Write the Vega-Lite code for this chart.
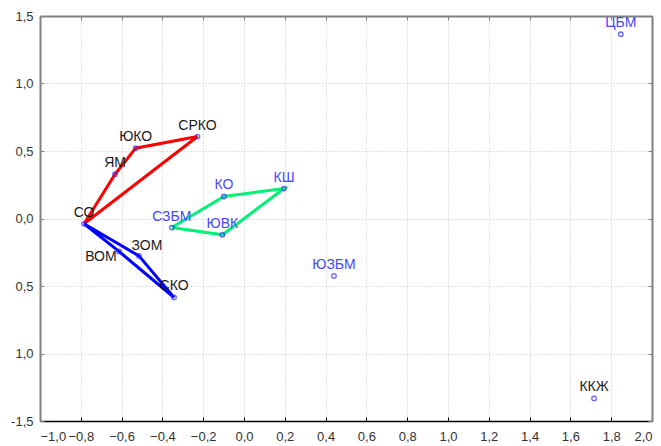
{
  "$schema": "https://vega.github.io/schema/vega-lite/v6.json",
  "width": 612,
  "height": 405,
  "autosize": {"type": "none"},
  "padding": {"left": 40, "top": 16, "right": 9, "bottom": 25},
  "background": "white",
  "config": {
    "view": {"stroke": null},
    "font": "Liberation Sans",
    "axis": {
      "labelFont": "Liberation Sans",
      "labelFontSize": 13,
      "labelColor": "#333333",
      "labelOverlap": false,
      "gridColor": "#c8c8c8",
      "gridDash": [1, 2],
      "gridWidth": 1,
      "tickSize": -4,
      "tickColor": "#808080",
      "domainColor": "#808080",
      "domainWidth": 2
    }
  },
  "resolve": {"axis": {"x": "independent", "y": "independent"}, "scale": {"color": "independent"}},
  "datasets": {
    "points": [
      {"name": "СО", "x": -0.784, "y": -0.039, "grp": "black"},
      {"name": "ЯМ", "x": -0.632, "y": 0.328, "grp": "black"},
      {"name": "ЮКО", "x": -0.531, "y": 0.521, "grp": "black"},
      {"name": "СРКО", "x": -0.228, "y": 0.607, "grp": "black"},
      {"name": "ЗОМ", "x": -0.515, "y": -0.277, "grp": "black"},
      {"name": "ВОМ", "x": -0.613, "y": -0.244, "grp": "black"},
      {"name": "СКО", "x": -0.343, "y": -0.585, "grp": "black"},
      {"name": "СЗБМ", "x": -0.354, "y": -0.067, "grp": "blue"},
      {"name": "КО", "x": -0.098, "y": 0.163, "grp": "blue"},
      {"name": "КШ", "x": 0.196, "y": 0.222, "grp": "blue"},
      {"name": "ЮВК", "x": -0.106, "y": -0.121, "grp": "blue"},
      {"name": "ЦБМ", "x": 1.847, "y": 1.365, "grp": "blue"},
      {"name": "ЮЗБМ", "x": 0.441, "y": -0.425, "grp": "blue"},
      {"name": "ККЖ", "x": 1.716, "y": -1.333, "grp": "black"}
    ],
    "edges": [
      {"poly": "red", "ord": 1, "name": "СО"},
      {"poly": "red", "ord": 2, "name": "ЯМ"},
      {"poly": "red", "ord": 3, "name": "ЮКО"},
      {"poly": "red", "ord": 4, "name": "СРКО"},
      {"poly": "red", "ord": 5, "name": "СО"},
      {"poly": "blue", "ord": 1, "name": "СО"},
      {"poly": "blue", "ord": 2, "name": "ЗОМ"},
      {"poly": "blue", "ord": 3, "name": "СКО"},
      {"poly": "blue", "ord": 4, "name": "ВОМ"},
      {"poly": "blue", "ord": 5, "name": "СО"},
      {"poly": "green", "ord": 1, "name": "СЗБМ"},
      {"poly": "green", "ord": 2, "name": "КО"},
      {"poly": "green", "ord": 3, "name": "КШ"},
      {"poly": "green", "ord": 4, "name": "ЮВК"},
      {"poly": "green", "ord": 5, "name": "СЗБМ"}
    ]
  },
  "layer": [
    {
      "data": {"name": "edges"},
      "transform": [
        {"lookup": "name", "from": {"data": {"name": "points"}, "key": "name", "fields": ["x", "y"]}}
      ],
      "mark": {"type": "line", "strokeWidth": 3, "clip": true},
      "encoding": {
        "x": {
          "field": "x", "type": "quantitative",
          "scale": {"domain": [-1, 2], "nice": false, "zero": false},
          "axis": {
            "orient": "bottom", "title": null,
            "values": [-1, -0.8, -0.6, -0.4, -0.2, 0, 0.2, 0.4, 0.6, 0.8, 1, 1.2, 1.4, 1.6, 1.8, 2],
            "labelExpr": "replace(format(datum.value, '.1f'), '.', ',')",
            "domainColor": "#000000", "tickColor": "#000000", "domainWidth": 1.5,
            "labelPadding": 13, "grid": true
          }
        },
        "y": {
          "field": "y", "type": "quantitative",
          "scale": {"domain": [-1.5, 1.5], "nice": false, "zero": false},
          "axis": {
            "orient": "left", "title": null,
            "values": [-1.5, -1, -0.5, 0, 0.5, 1, 1.5],
            "labelExpr": "datum.value == -1.5 ? '-1,5' : replace(format(abs(datum.value), '.1f'), '.', ',')",
            "labelPadding": 11, "grid": true
          }
        },
        "color": {
          "field": "poly", "type": "nominal",
          "scale": {"domain": ["red", "blue", "green"], "range": ["#ff0000", "#0000ff", "#00f078"]},
          "legend": null
        },
        "detail": {"field": "poly"},
        "order": {"field": "ord", "type": "quantitative"}
      }
    },
    {
      "data": {"name": "points"},
      "mark": {"type": "point", "shape": "circle", "filled": false, "size": 20, "strokeWidth": 1.3, "color": "#2828ff"},
      "encoding": {
        "x": {"field": "x", "type": "quantitative", "axis": {"orient": "top", "title": null, "labels": false, "grid": false, "values": [-1, -0.8, -0.6, -0.4, -0.2, 0, 0.2, 0.4, 0.6, 0.8, 1, 1.2, 1.4, 1.6, 1.8, 2]}},
        "y": {"field": "y", "type": "quantitative", "axis": {"orient": "right", "title": null, "labels": false, "grid": false, "values": [-1.5, -1, -0.5, 0, 0.5, 1, 1.5]}}
      }
    },
    {
      "data": {"name": "points"},
      "transform": [{"filter": "datum.name != 'ВОМ' && datum.name != 'ЗОМ'"}],
      "mark": {"type": "text", "fontSize": 14, "baseline": "middle", "align": "center", "dy": -11},
      "encoding": {
        "x": {"field": "x", "type": "quantitative", "axis": null},
        "y": {"field": "y", "type": "quantitative", "axis": null},
        "text": {"field": "name"},
        "color": {"field": "grp", "type": "nominal", "scale": {"domain": ["black", "blue"], "range": ["#1a1a1a", "#4646ff"]}, "legend": null}
      }
    },
    {
      "data": {"name": "points"},
      "transform": [{"filter": "datum.name == 'ЗОМ'"}],
      "mark": {"type": "text", "fontSize": 14, "baseline": "middle", "align": "center", "dx": 8, "dy": -10, "color": "#1a1a1a"},
      "encoding": {
        "x": {"field": "x", "type": "quantitative", "axis": null},
        "y": {"field": "y", "type": "quantitative", "axis": null},
        "text": {"field": "name"}
      }
    },
    {
      "data": {"name": "points"},
      "transform": [{"filter": "datum.name == 'ВОМ'"}],
      "mark": {"type": "text", "fontSize": 14, "baseline": "middle", "align": "center", "dx": -18, "dy": 6, "color": "#1a1a1a"},
      "encoding": {
        "x": {"field": "x", "type": "quantitative", "axis": null},
        "y": {"field": "y", "type": "quantitative", "axis": null},
        "text": {"field": "name"}
      }
    }
  ]
}
